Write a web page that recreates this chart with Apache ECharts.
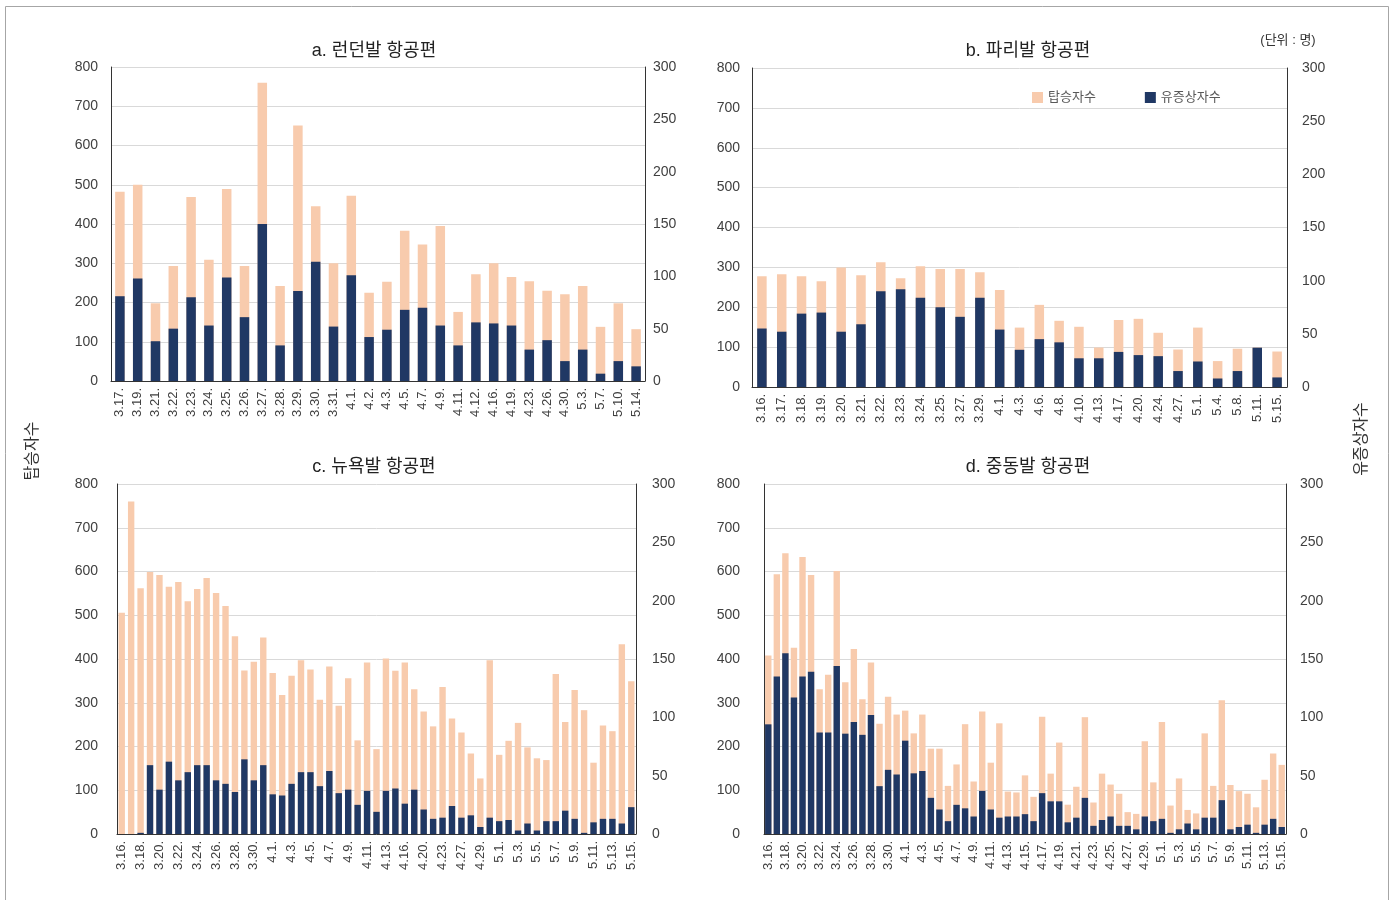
<!DOCTYPE html>
<html>
<head>
<meta charset="utf-8">
<script src="https://cdn.jsdelivr.net/npm/echarts@6/dist/echarts.min.js"></script>
<style>
  html, body { margin: 0; padding: 0; background: #fff; }
  #chart { width: 1395px; height: 900px; }
</style>
</head>
<body>
<div id="chart"></div>
<script>
// a. 런던발 항공편
var londonDates = ['3.17.', '3.19.', '3.21.', '3.22.', '3.23.', '3.24.', '3.25.', '3.26.', '3.27.', '3.28.',
  '3.29.', '3.30.', '3.31.', '4.1.', '4.2.', '4.3.', '4.5.', '4.7.', '4.9.', '4.11.',
  '4.12.', '4.16.', '4.19.', '4.23.', '4.26.', '4.30.', '5.3.', '5.7.', '5.10.', '5.14.']
var londonBoard = [482, 500, 198, 293, 469, 309, 489, 293, 760, 242,
  651, 445, 300, 472, 225, 253, 383, 348, 395, 176,
  272, 300, 265, 254, 230, 221, 242, 138, 198, 132]
var londonSymp = [81, 98, 38, 50, 80, 53, 99, 61, 150, 34,
  86, 114, 52, 101, 42, 49, 68, 70, 53, 34,
  56, 55, 53, 30, 39, 19, 30, 7, 19, 14]

// b. 파리발 항공편
var parisDates = ['3.16.', '3.17.', '3.18.', '3.19.', '3.20.', '3.21.', '3.22.', '3.23.', '3.24.', '3.25.',
  '3.27.', '3.29.', '4.1.', '4.3.', '4.6.', '4.8.', '4.10.', '4.13.', '4.17.', '4.20.',
  '4.24.', '4.27.', '5.1.', '5.4.', '5.8.', '5.11.', '5.15.']
var parisBoard = [278, 283, 278, 265, 300, 280, 313, 273, 303, 296,
  296, 288, 243, 149, 206, 166, 151, 99, 168, 171,
  136, 94, 149, 65, 96, 99, 89]
var parisSymp = [55, 52, 69, 70, 52, 59, 90, 92, 84, 75,
  66, 84, 54, 35, 45, 42, 27, 27, 33, 30,
  29, 15, 24, 8, 15, 37, 9]

// c. 뉴욕발 항공편
var nyDates = ['3.16.', '3.17.', '3.18.', '3.19.', '3.20.', '3.21.', '3.22.', '3.23.', '3.24.', '3.25.',
  '3.26.', '3.27.', '3.28.', '3.29.', '3.30.', '3.31.', '4.1.', '4.2.', '4.3.', '4.4.',
  '4.5.', '4.6.', '4.7.', '4.8.', '4.9.', '4.10.', '4.11.', '4.12.', '4.13.', '4.15.',
  '4.16.', '4.18.', '4.20.', '4.22.', '4.23.', '4.25.', '4.27.', '4.28.', '4.29.', '4.30.',
  '5.1.', '5.2.', '5.3.', '5.4.', '5.5.', '5.6.', '5.7.', '5.8.', '5.9.', '5.10.',
  '5.11.', '5.12.', '5.13.', '5.14.', '5.15.']
var nyBoard = [506, 760, 562, 599, 592, 565, 576, 532, 560, 585,
  551, 521, 452, 374, 394, 449, 368, 318, 362, 397,
  376, 307, 383, 293, 356, 214, 392, 194, 401, 373,
  392, 331, 280, 246, 336, 264, 232, 184, 127, 397,
  181, 213, 254, 198, 173, 169, 366, 256, 329, 283,
  163, 248, 235, 434, 349]
var nySymp = [0, 0, 1, 59, 38, 62, 46, 53, 59, 59,
  46, 43, 36, 64, 46, 59, 34, 33, 43, 53,
  53, 41, 54, 35, 38, 25, 37, 19, 37, 39,
  26, 38, 21, 13, 14, 24, 14, 16, 6, 14,
  11, 12, 3, 9, 3, 11, 11, 20, 13, 1,
  10, 13, 13, 9, 23]

// d. 중동발 항공편 (3.16 ~ 5.15 매일)
var meDates = ['3.16.', '3.17.', '3.18.', '3.19.', '3.20.', '3.21.', '3.22.', '3.23.', '3.24.', '3.25.',
  '3.26.', '3.27.', '3.28.', '3.29.', '3.30.', '3.31.', '4.1.', '4.2.', '4.3.', '4.4.',
  '4.5.', '4.6.', '4.7.', '4.8.', '4.9.', '4.10.', '4.11.', '4.12.', '4.13.', '4.14.',
  '4.15.', '4.16.', '4.17.', '4.18.', '4.19.', '4.20.', '4.21.', '4.22.', '4.23.', '4.24.',
  '4.25.', '4.26.', '4.27.', '4.28.', '4.29.', '4.30.', '5.1.', '5.2.', '5.3.', '5.4.',
  '5.5.', '5.6.', '5.7.', '5.8.', '5.9.', '5.10.', '5.11.', '5.12.', '5.13.', '5.14.', '5.15.']
var meBoard = [408, 594, 642, 426, 633, 592, 331, 364, 601, 347,
  423, 308, 392, 252, 314, 273, 282, 230, 273, 195,
  195, 110, 159, 251, 120, 280, 163, 253, 97, 95,
  134, 85, 268, 138, 209, 67, 108, 267, 72, 138,
  113, 92, 50, 46, 212, 118, 256, 65, 127, 55,
  47, 230, 110, 306, 112, 98, 92, 61, 124, 184, 158]
var meSymp = [94, 135, 155, 117, 135, 139, 87, 87, 144, 86,
  96, 85, 102, 41, 55, 51, 80, 52, 54, 31,
  21, 11, 25, 22, 15, 37, 21, 14, 15, 15,
  17, 11, 35, 28, 28, 10, 14, 31, 7, 12,
  15, 7, 7, 4, 15, 11, 13, 1, 4, 9,
  4, 14, 14, 29, 4, 6, 8, 1, 8, 13, 6]

var FONT = "'Liberation Sans', 'Noto Sans CJK KR', sans-serif"
var LIGHT = '#F8CBAD'
var DARK = '#203864'

var panels = [
  { title: 'a. 런던발 항공편', cx: 369, ty: 37, grid: { left: 111, top: 67, width: 534, height: 314 },
    dates: londonDates, board: londonBoard, symp: londonSymp, barW: 9.5, lm: 13, rm: 8, xInt: 0 },
  { title: 'b. 파리발 항공편', cx: 1023, ty: 37, grid: { left: 752, top: 68, width: 535, height: 319 },
    dates: parisDates, board: parisBoard, symp: parisSymp, barW: 9.5, lm: 12, rm: 15, xInt: 0 },
  { title: 'c. 뉴욕발 항공편', cx: 369, ty: 453, grid: { left: 117, top: 484, width: 519, height: 350 },
    dates: nyDates, board: nyBoard, symp: nySymp, barW: 6.4, lm: 19, rm: 16, xInt: 1 },
  { title: 'd. 중동발 항공편', cx: 1023, ty: 453, grid: { left: 764, top: 484, width: 522, height: 350 },
    dates: meDates, board: meBoard, symp: meSymp, barW: 6.4, lm: 24, rm: 14, xInt: 1 }
]

var option = {
  backgroundColor: '#fff',
  animation: false,
  textStyle: { fontFamily: FONT },
  title: [],
  grid: [],
  xAxis: [],
  yAxis: [],
  series: [],
  legend: {
    data: ['탑승자수', '유증상자수'],
    left: 1027,
    top: 86,
    itemWidth: 11,
    itemHeight: 11,
    itemGap: 49,
    icon: 'rect',
    selectedMode: false,
    textStyle: { fontSize: 13, color: '#595959', fontFamily: FONT }
  },
  graphic: [
    { type: 'rect', shape: { x: 5.5, y: 6.5, width: 1383, height: 905 },
      style: { fill: 'none', stroke: '#a6a6a6', lineWidth: 1 }, silent: true },
    { type: 'text', x: 33, y: 451, rotation: Math.PI / 2,
      style: { text: '탑승자수', font: '16px ' + FONT, fill: '#333', align: 'center', verticalAlign: 'middle' } },
    { type: 'text', x: 1362, y: 439, rotation: Math.PI / 2,
      style: { text: '유증상자수', font: '16px ' + FONT, fill: '#333', align: 'center', verticalAlign: 'middle' } },
    { type: 'text', x: 1288, y: 40,
      style: { text: '(단위 : 명)', font: '13px ' + FONT, fill: '#333', align: 'center', verticalAlign: 'middle' } }
  ]
}

panels.forEach(function (p, i) {
  option.title.push({
    text: p.title, left: p.cx, top: p.ty, textAlign: 'center',
    textStyle: { fontSize: 18, fontWeight: 'normal', color: '#222', fontFamily: FONT }
  })
  option.grid.push(Object.assign({ containLabel: false }, p.grid))
  option.xAxis.push({
    type: 'category', gridIndex: i, data: p.dates,
    axisLine: { lineStyle: { color: '#333', width: 1 } },
    axisTick: { show: false },
    axisLabel: { rotate: 90, interval: p.xInt, fontSize: 13, color: '#404040', margin: 7, fontFamily: FONT }
  })
  option.yAxis.push({
    type: 'value', gridIndex: i, position: 'left', min: 0, max: 800, interval: 100,
    axisLine: { show: true, lineStyle: { color: '#333', width: 1 } },
    axisTick: { show: false },
    axisLabel: { fontSize: 14, color: '#404040', margin: p.lm, fontFamily: FONT },
    splitLine: { lineStyle: { color: '#d9d9d9', width: 1 } }
  })
  option.yAxis.push({
    type: 'value', gridIndex: i, position: 'right', min: 0, max: 300, interval: 50,
    axisLine: { show: true, lineStyle: { color: '#333', width: 1 } },
    axisTick: { show: false },
    axisLabel: { fontSize: 14, color: '#404040', margin: p.rm, fontFamily: FONT },
    splitLine: { show: false }
  })
  option.series.push({
    name: '탑승자수', type: 'bar', xAxisIndex: i, yAxisIndex: 2 * i,
    data: p.board, barWidth: p.barW, barGap: '-100%',
    itemStyle: { color: LIGHT }
  })
  option.series.push({
    name: '유증상자수', type: 'bar', xAxisIndex: i, yAxisIndex: 2 * i + 1,
    data: p.symp, barWidth: p.barW, barGap: '-100%',
    itemStyle: { color: DARK }
  })
})

var chart = echarts.init(document.getElementById('chart'))
chart.setOption(option)
</script>
</body>
</html>
